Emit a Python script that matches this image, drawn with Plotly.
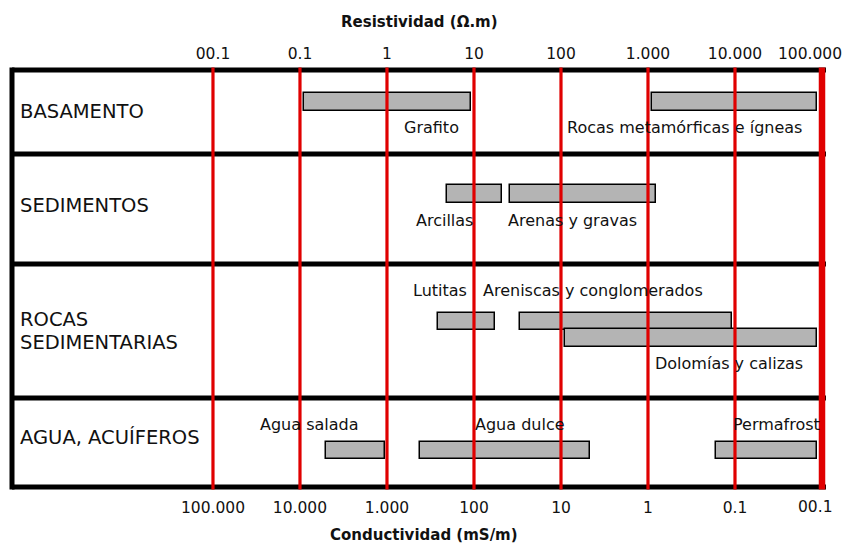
import math
import plotly.graph_objects as go

# ---------------- data ----------------
categories = ["BASAMENTO", "SEDIMENTOS", "ROCAS<br>SEDIMENTARIAS", "AGUA, ACUÍFEROS"]
materials = ["Grafito", "Rocas metamórficas e ígneas", "Arcillas", "Arenas y gravas",
             "Lutitas", "Areniscas y conglomerados", "Dolomías y calizas",
             "Agua salada", "Agua dulce", "Permafrost"]
material_category = [0, 0, 1, 1, 2, 2, 2, 3, 3, 3]
resistivity_min = [0.11, 1100, 4.9, 26, 3.9, 34, 110, 0.2, 2.4, 6000]
resistivity_max = [9.2, 88000, 21, 1250, 17.4, 9200, 88000, 0.95, 215, 88000]
tick_values = [0.01, 0.1, 1, 10, 100, 1000, 10000, 100000]
resistivity_tick_text = ["00.1", "0.1", "1", "10", "100", "1.000", "10.000", "100.000"]
conductivity_tick_text = ["100.000", "10.000", "1.000", "100", "10", "1", "0.1", "00.1"]
title_top = "Resistividad (Ω.m)"
title_bottom = "Conductividad (mS/m)"

# ---------------- style / layout ----------------
FONT = "DejaVu Sans"
RED = "#e00000"
GRAY = "#b4b4b4"
W, H = 845, 544
M_L, M_R, M_T, M_B = 12, 19, 70, 57
PLOT_H = H - M_T - M_B
X_RANGE = [-4.310, 5.046]
row_heights = [84, 110, 134, 89]
bar_offset = [32, 32, 40, 40, 57.5, 57.5, 74, 52.5, 52.5, 52.5]
bar_thickness = 17.5
label_dy = [25, 25, 26.5, 26.5, -31.3, -31.3, 25.5, -26.5, -26.5, -26.5]
label_dx = [44, -50, -30.5, -11, -27, -33.5, 38, -46.7, 14.7, 10]
category_cap_center = [[41], [135], [249, 272], [367.5]]
TICK_FONT = dict(family=FONT, size=15.5, color="#111")
top_tick_y, bottom_tick_y = 54, 507          # pixel centres of the edge tick labels
edge_label_shift_top, edge_label_shift_bottom = -12, -7

row_top = [sum(row_heights[:i]) for i in range(len(row_heights))]
bar_y = [row_top[c] + o for c, o in zip(material_category, bar_offset)]

fig = go.Figure()
fig.add_trace(go.Bar(
    y=bar_y,
    x=[hi - lo for lo, hi in zip(resistivity_min, resistivity_max)],
    base=resistivity_min,
    orientation="h",
    width=bar_thickness,
    marker=dict(color=GRAY, line=dict(color="black", width=1.5)),
    text=materials,
    textposition="none",
    hoverinfo="text",
    showlegend=False,
))
# invisible trace so the top (resistivity) axis is drawn
fig.add_trace(go.Scatter(x=[tick_values[0]], y=[0], xaxis="x2", mode="markers",
                         marker=dict(opacity=0), hoverinfo="skip", showlegend=False))

shapes = []
# black row separators and left border
for b in [0] + [sum(row_heights[:i + 1]) for i in range(len(row_heights))]:
    yp = 1 - b / PLOT_H
    shapes.append(dict(type="line", xref="paper", yref="paper", x0=0, x1=1, y0=yp, y1=yp,
                       line=dict(color="black", width=5), layer="above"))
shapes.append(dict(type="line", xref="paper", yref="paper", x0=0, x1=0, y0=-0.006, y1=1.006,
                   line=dict(color="black", width=5), layer="above"))
# red decade lines
for i, v in enumerate(tick_values):
    shapes.append(dict(type="line", xref="x", yref="paper", x0=v, x1=v, y0=-0.006, y1=1.006,
                       line=dict(color=RED, width=6.5 if i == len(tick_values) - 1 else 3.2),
                       layer="above"))

annotations = []
for i, m in enumerate(materials):
    xc = (math.log10(resistivity_min[i]) + math.log10(resistivity_max[i])) / 2
    annotations.append(dict(x=xc, y=bar_y[i] + label_dy[i], xref="x", yref="y", text=m,
                            showarrow=False, xshift=label_dx[i], xanchor="center", yanchor="middle",
                            font=dict(family=FONT, size=16, color="#111")))
for c, name in enumerate(categories):
    for line, yc in zip(name.split("<br>"), category_cap_center[c]):
        annotations.append(dict(x=0, y=yc, xref="paper", yref="y", text=line, showarrow=False,
                                xanchor="left", yanchor="middle", xshift=6,
                                font=dict(family=FONT, size=19.5, color="#111")))
annotations.append(dict(x=423.5 / W, y=1 + (M_T - 22) / PLOT_H, xref="paper", yref="paper",
                        xanchor="center", yanchor="middle", showarrow=False,
                        text="<b>" + title_top + "</b>",
                        font=dict(family=FONT, size=15, color="#111")))
annotations.append(dict(x=428 / W, y=-(535 - M_T - PLOT_H) / PLOT_H, xref="paper", yref="paper",
                        xanchor="center", yanchor="middle", showarrow=False,
                        text="<b>" + title_bottom + "</b>",
                        font=dict(family=FONT, size=15, color="#111")))
# the last decade labels sit pulled inside the frame, as in the original
annotations.append(dict(x=math.log10(tick_values[-1]), xref="x", xshift=edge_label_shift_top,
                        y=1 + (M_T - top_tick_y) / PLOT_H, yref="paper",
                        text=resistivity_tick_text[-1], showarrow=False,
                        xanchor="center", yanchor="middle", font=TICK_FONT))
annotations.append(dict(x=math.log10(tick_values[-1]), xref="x", xshift=edge_label_shift_bottom,
                        y=-(bottom_tick_y - M_T - PLOT_H) / PLOT_H, yref="paper",
                        text=conductivity_tick_text[-1], showarrow=False,
                        xanchor="center", yanchor="middle", font=TICK_FONT))

top_text = resistivity_tick_text[:-1] + [""]
bottom_text = conductivity_tick_text[:-1] + [""]

axis_common = dict(type="log", range=X_RANGE, tickvals=tick_values, showgrid=False,
                   zeroline=False, showline=False, ticks="outside", automargin=False,
                   tickcolor="rgba(0,0,0,0)", fixedrange=True,
                   tickfont=TICK_FONT)
fig.update_layout(
    width=W, height=H,
    margin=dict(l=M_L, r=M_R, t=M_T, b=M_B, pad=0, autoexpand=False),
    paper_bgcolor="white", plot_bgcolor="white",
    xaxis=dict(**axis_common, ticktext=bottom_text, side="bottom", ticklen=6),
    xaxis2=dict(**axis_common, ticktext=top_text, side="top", overlaying="x", anchor="y",
                ticklen=4),
    yaxis=dict(range=[PLOT_H, 0], visible=False, fixedrange=True, automargin=False),
    shapes=shapes,
    annotations=annotations,
    showlegend=False,
    bargap=0,
)
fig.write_html("out.html", config={"displayModeBar": False})
